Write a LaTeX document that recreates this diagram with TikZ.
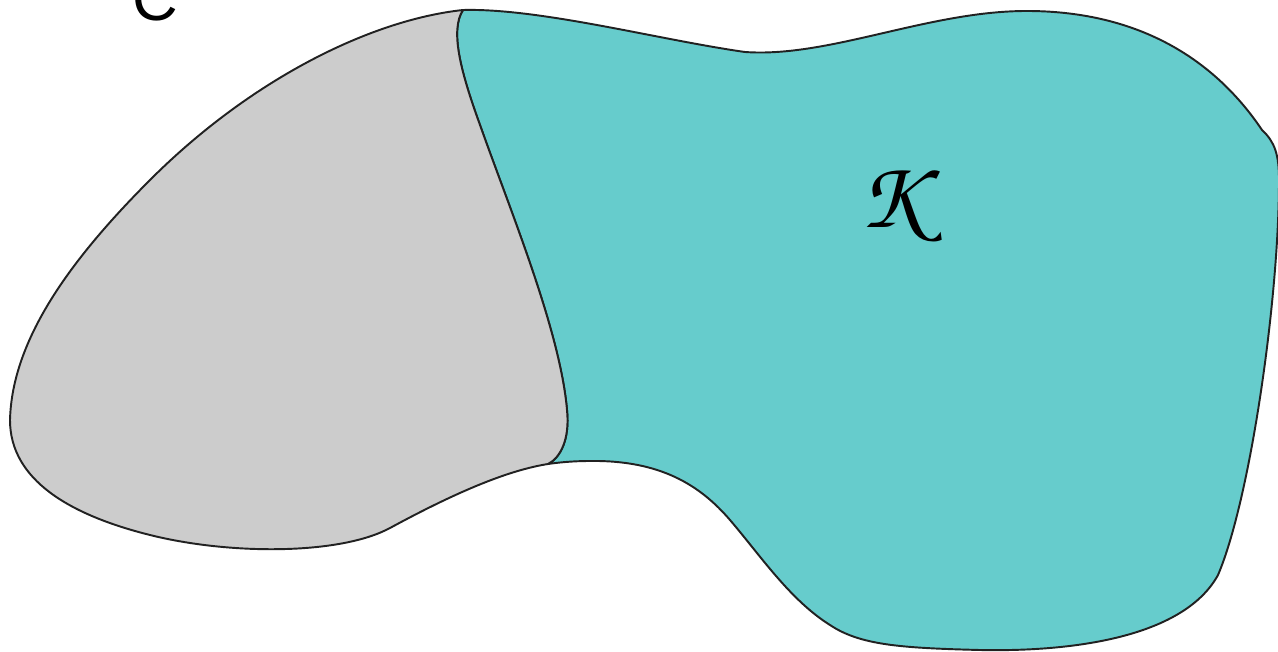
\documentclass[tikz,border=0pt]{standalone}
\usepackage{fontspec}
\setsansfont{Liberation Sans}
\usepackage{graphicx}
\begin{document}
\begin{tikzpicture}[x=0.02cm,y=-0.02cm,
  region/.style={draw=black!87,line width=1.1pt,line join=round},
  label/.style={inner sep=0pt,text=black}]
\useasboundingbox (0,0) rectangle (1278,652);
\clip (0,0) rectangle (1278,652);
% teal region K
\path[region,fill={rgb,255:red,102;green,204;blue,204}]
  (463,10) .. controls (540,8) and (660,40) .. (745,52)
  .. controls (830,58) and (930,10) .. (1030,11)
  .. controls (1140,12) and (1215,60) .. (1262,130)
  .. controls (1275,142) and (1279,155) .. (1279,180)
  .. controls (1279,300) and (1250,500) .. (1218,575)
  .. controls (1185,635) and (1080,652) .. (980,650)
  .. controls (900,648) and (860,645) .. (830,625)
  .. controls (790,600) and (760,555) .. (730,520)
  .. controls (700,485) and (660,460) .. (590,461)
  .. controls (570,461) and (555,463) .. (548,464)
  .. controls (560,458) and (570,440) .. (567,410)
  .. controls (560,330) and (510,210) .. (480,125)
  .. controls (460,70) and (450,30) .. (463,10) -- cycle;
% grey region
\path[region,fill={rgb,255:red,204;green,204;blue,204}]
  (548,464) .. controls (510,470) and (460,490) .. (390,528)
  .. controls (340,555) and (230,555) .. (150,535)
  .. controls (70,515) and (10,480) .. (10,420)
  .. controls (12,340) and (70,260) .. (150,180)
  .. controls (250,80) and (370,20) .. (463,10)
  .. controls (450,30) and (460,70) .. (480,125)
  .. controls (510,210) and (560,330) .. (567,410)
  .. controls (570,440) and (560,458) .. (548,464) -- cycle;
\node[label] (K) at (891,205) {\scalebox{5.6}{\usefont{T1}{pzc}{m}{it}K}};
\node[label,anchor=base] (C) at (155,21) {\fontsize{36}{36}\selectfont\sffamily C};
\end{tikzpicture}
\end{document}
